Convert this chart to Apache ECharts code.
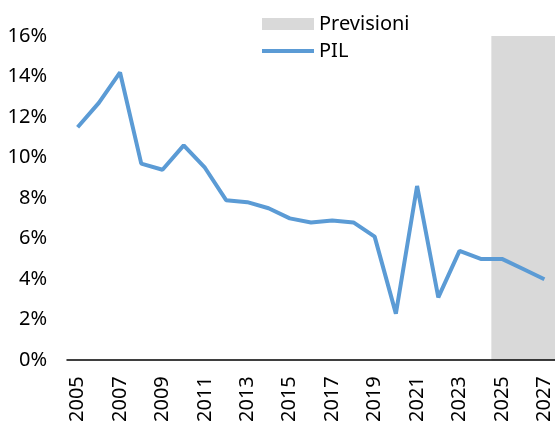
<!DOCTYPE html>
<html>
<head>
<meta charset="utf-8">
<script src="https://cdn.jsdelivr.net/npm/echarts@6/dist/echarts.min.js"></script>
<style>html,body{margin:0;padding:0;background:#fff}#c{width:555px;height:425px}</style>
</head>
<body>
<div id="c"></div>
<script>
var years = ['2005','2006','2007','2008','2009','2010','2011','2012','2013','2014','2015','2016','2017','2018','2019','2020','2021','2022','2023','2024','2025','2026','2027'];
var pil = [11.5,12.7,14.2,9.7,9.4,10.6,9.5,7.9,7.8,7.5,7.0,6.8,6.9,6.8,6.1,2.3,8.6,3.1,5.4,5.0,5.0,4.5,4.0];
var forecastStart = '2025';
var forecastEnd = '2027';
var forecastTop = 16;

var i0 = years.indexOf(forecastStart), i1 = years.indexOf(forecastEnd) + 1;

var chart = echarts.init(document.getElementById('c'), null, {renderer:'canvas'});
var font = 'Noto Sans';
chart.setOption({
  animation: false,
  textStyle: {fontFamily: font},
  legend: {
    orient: 'vertical', left: 257, top: 9, itemWidth: 52, itemHeight: 12, itemGap: 7,
    symbolKeepAspect: true,
    textStyle: {fontFamily: font, fontSize: 20, color: '#000'},
    data: [{name:'Previsioni', icon:'rect'}, {name:'PIL', icon:'path://M0,0 L52,0 L52,4 L0,4 Z'}]
  },
  grid: {left: 67, right: 0, top: 36, bottom: 64, containLabel: false},
  xAxis: [{
    type: 'category', data: years, boundaryGap: true, z: 10,
    axisLine: {lineStyle: {color: '#000', width: 1.5}},
    axisTick: {show: false},
    axisLabel: {rotate: 90, interval: 1, fontFamily: font, fontSize: 20, color: '#000', margin: 16}
  }, {
    type: 'value', min: 0, max: years.length, show: false
  }],
  yAxis: {
    type: 'value', min: 0, max: 16, interval: 2,
    splitLine: {show: false}, axisLine: {show: false}, axisTick: {show: false},
    axisLabel: {formatter: '{value}%', fontFamily: font, fontSize: 20, color: '#000', margin: 20}
  },
  series: [
    {name: 'Previsioni', type: 'line', xAxisIndex: 1, data: [], symbol: 'none',
     itemStyle: {color: '#D9D9D9'}, lineStyle: {color: '#D9D9D9'}, z: 1, silent: true,
     markArea: {silent: true, itemStyle: {color: '#D9D9D9', opacity: 1},
       data: [[{xAxis: i0, yAxis: 0}, {xAxis: i1, yAxis: forecastTop}]]}},
    {name: 'PIL', type: 'line', data: pil, symbol: 'none',
     lineStyle: {color: '#5B9BD5', width: 4}, itemStyle: {color: '#5B9BD5'}, z: 3}
  ]
});
</script>
</body>
</html>
